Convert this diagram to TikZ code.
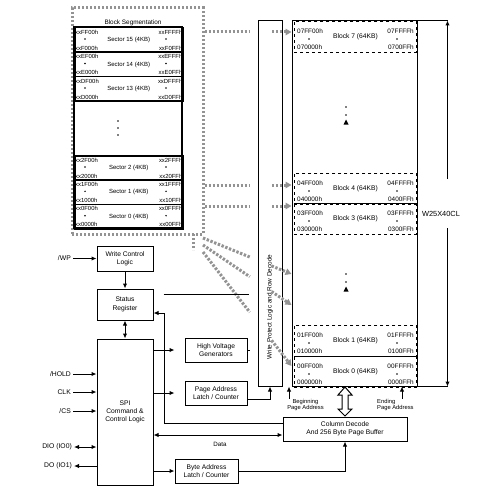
\documentclass[tikz,border=0pt]{standalone}
\usepackage{fontspec}
\setmainfont{Liberation Sans}
\usetikzlibrary{arrows.meta,calc,positioning}

\tikzstyle{block} = [rectangle, draw, line width=1pt, align=center, inner sep=1pt,
    font=\fontsize{6.7}{8.3}\selectfont]
\tikzstyle{sector} = [rectangle, draw, line width=1.5pt, inner sep=0pt,
    minimum width=108, minimum height=24.5, anchor=north west,
    font=\fontsize{6}{7}\selectfont]
\tikzstyle{memblock} = [rectangle, draw, dashed, line width=0.9pt, inner sep=0pt,
    minimum width=122, minimum height=31, anchor=north west,
    font=\fontsize{6.7}{8}\selectfont]
\tikzstyle{hexs} = [inner sep=0pt, font=\fontsize{5.9}{6}\selectfont]
\tikzstyle{hexb} = [inner sep=0pt, font=\fontsize{6.4}{7}\selectfont]
\tikzstyle{pin} = [inner sep=0pt, anchor=east, font=\fontsize{6.8}{8}\selectfont]
\tikzstyle{note} = [inner sep=0pt, align=center, font=\fontsize{5.8}{6.8}\selectfont]
\tikzstyle{line} = [draw, line width=1pt, -{Latex[length=5pt,width=4.5pt]}]
\tikzstyle{biline} = [draw, line width=1pt, {Latex[length=5pt,width=4.5pt]}-{Latex[length=5pt,width=4.5pt]}]
\tikzstyle{wire} = [draw, line width=1pt]
\tikzstyle{dotline} = [draw=gray!85, line width=3pt, dash pattern=on 2.4pt off 1.6pt]
\tikzstyle{dotarrow} = [dotline, -{Triangle[length=6pt,width=6.5pt]}]

\begin{document}
\begin{tikzpicture}[x=1pt, y=-1pt]
    \useasboundingbox (0,0) rectangle (500,500);

    % block segmentation
    \node [dotline, minimum width=131, minimum height=226, inner sep=0pt] (seg) at (137.5,121) {};
    \draw [line width=1.5pt] (74,27) rectangle (182,228);
    \node [hexb] (segtitle) at (133,23) {Block Segmentation};
    \foreach \sn/\hx/\y in {15/F/27, 14/E/51.5, 13/D/76, 2/2/155, 1/1/179.3, 0/0/203.7} {
        \node [sector] (s\sn) at (74,\y) {Sector \sn\ (4KB)\hspace{8pt}};
        \node [hexs, anchor=west] (sa\sn) at ([xshift=1pt,yshift=-5pt]s\sn.north west) {xx\hx F00h};
        \node [hexs, anchor=east] (sb\sn) at ([xshift=-1pt,yshift=-5pt]s\sn.north east) {xx\hx FFFh};
        \node [hexs, anchor=west] (sc\sn) at ([xshift=1pt,yshift=5pt]s\sn.south west) {xx\hx 000h};
        \node [hexs, anchor=east] (sd\sn) at ([xshift=-1pt,yshift=5pt]s\sn.south east) {xx\hx 0FFh};
        \fill (85,\y+12) circle (0.8) (166,\y+12) circle (0.8);
    }
    \foreach \y in {121,128,135} \fill (118,\y) circle (0.8);

    % memory array
    \foreach \bk/\ty in {7/21, 4/173, 3/203, 1/325, 0/356} {
        \node [memblock] (b\bk) at (294,\ty) {Block \bk\ (64KB)};
        \node [hexb, anchor=west] (ba\bk) at (297,\ty+10.5) {0\bk FF00h};
        \node [hexb, anchor=east] (bb\bk) at (414,\ty+10.5) {0\bk FFFFh};
        \node [hexb, anchor=west] (bc\bk) at (297,\ty+26.5) {0\bk 0000h};
        \node [hexb, anchor=east] (bd\bk) at (414,\ty+26.5) {0\bk 00FFh};
        \fill (309,\ty+18) circle (0.8) (397,\ty+18) circle (0.8);
    }
    \draw [line width=1pt] (b3.north west) -- (b3.north east) (b0.north west) -- (b0.north east);
    \node [draw, line width=1pt, minimum width=125, minimum height=365, inner sep=0pt] (mem) at (354.5,203.5) {};
    \foreach \y in {107,274} {
        \fill (346,\y) circle (0.8) (346,\y+8) circle (0.8);
        \fill (343.5,\y+17.5) -- (348.5,\y+17.5) -- (346,\y+12.5) -- cycle;
    }

    % sectors mapped onto the array
    \coordinate (f1) at (203,238);
    \coordinate (f2) at (203,245);
    \coordinate (f3) at (203,252);
    \coordinate (g1) at (mem.west |- 0,274);
    \coordinate (g2) at (mem.west |- 0,305);
    \coordinate (g3) at (mem.west |- 0,366);
    \foreach \fn in {1,2,3}
        \path [dotline] (f\fn) -- ($(f\fn)!0.528!(g\fn)$);
    \foreach \y in {32,185,206}
        \path [dotline] (seg.east |- 0,\y) -- (250,\y);
    \path [dotline] (193,234) -- (193,250);

    \node [draw, fill=white, line width=1pt, minimum width=24, minimum height=365, inner sep=0pt] (wp) at (270,203.5) {};
    \node [rotate=90, inner sep=0pt, font=\fontsize{6.4}{7}\selectfont] (wptext) at (270,307) {Write Protect Logic and Row Decode};
    \foreach \fn in {1,2,3}
        \path [dotarrow] ($(f\fn)!0.775!(g\fn)$) -- (g\fn);
    \foreach \y in {32,185,206}
        \path [dotarrow] (272,\y) -- (mem.west |- 0,\y);

    % control logic
    \node [block, minimum width=56, minimum height=25] (wcl) at (125,258.5) {Write Control\\Logic};
    \node [block, minimum width=56, minimum height=31, below=17pt of wcl] (sr) {Status\\Register};
    \node [block, minimum width=56, minimum height=146, below=18pt of sr] (spi) {SPI\\Command \&\\Control Logic};
    \node [block, minimum width=62, minimum height=24] (hv) at (216,350) {High Voltage\\Generators};
    \node [block, minimum width=62, minimum height=24, below=18pt of hv] (pa) {Page Address\\Latch / Counter};
    \node [block, minimum width=63, minimum height=24] (ba) at (206.5,471) {Byte Address\\Latch / Counter};
    \node [block, minimum width=124, minimum height=24] (cd) at (345,429) {Column Decode\\And 256 Byte Page Buffer};

    \node [pin] (wpin) at (71,258.5) {/WP};
    \node [pin] (hold) at (71,374) {/HOLD};
    \node [pin] (clk) at (71,392) {CLK};
    \node [pin] (cs) at (71,411) {/CS};
    \node [pin] (dio) at (72,447) {DIO (IO0)};
    \node [pin] (doio) at (72,466) {DO (IO1)};

    \path [line] ([xshift=2pt]wpin.east) -- (wcl.west);
    \path [line] (wcl) -- (sr);
    \path [biline] (sr) -- (spi);
    \foreach \p in {hold,clk,cs}
        \path [line] ([xshift=2pt]\p.east) -- (\p -| spi.west);
    \path [biline] ([xshift=2pt]dio.east) -- (dio -| spi.west);
    \path [line] (doio -| spi.west) -- ([xshift=2pt]doio.east);

    \coordinate (fb) at (164,313);
    \coordinate (wpl) at (249,294);
    \path [wire] ([xshift=10pt]sr.east |- wpl) -- (wpl);
    \path [line] ([yshift=6pt]cd.west) -| (fb) -- (sr.east |- fb);
    \path [line] (spi.east |- hv) -- ([xshift=-10pt]hv.west);
    \path [wire] (hv.east) -- ++(2,0);
    \path [line] (spi.east |- pa) -- ([xshift=-10pt]pa.west);
    \path [line] (spi.east |- ba) -- (ba.west);
    \path [line] (ba.east) -| (cd.south);
    \path [line] ([yshift=-6pt]pa.east) -| (wp.south);
    \path [biline] (spi.east |- 0,435) -- (cd.west |- 0,435);
    \node [note, font=\fontsize{6.2}{7}\selectfont] (data) at (220,444) {Data};

    % page buffer bus
    \draw [line width=1pt, fill=white] (345,387) -- (352,395) -- (348,395) -- (348,409) -- (352,409)
        -- (345,416) -- (338,409) -- (342,409) -- (342,395) -- (338,395) -- cycle;

    \node [note] (beg) at (305.5,405) {Beginning\\Page Address};
    \node [note, align=left, anchor=west] (endp) at (377,405) {Ending\\Page Address};
    \path [line] (beg.north -| 289,0) -- (mem.south -| 289,0);
    \path [line] (endp.north -| 402,0) -- (mem.south -| 402,0);

    % device range
    \node [inner sep=0pt, font=\fontsize{7.4}{8}\selectfont] (chip) at (441,214) {W25X40CL};
    \coordinate (rt) at ($(mem.north east)+(30,0)$);
    \coordinate (rb) at ($(mem.south east)+(30,0)$);
    \coordinate (gt) at (rt |- 0,179);
    \coordinate (gb) at (rt |- 0,228);
    \path [wire] (mem.north east) -- (rt);
    \path [wire] (mem.south east) -- (rb);
    \path [line] (gt) -- (rt);
    \path [line] (gb) -- (rb);
\end{tikzpicture}
\end{document}
